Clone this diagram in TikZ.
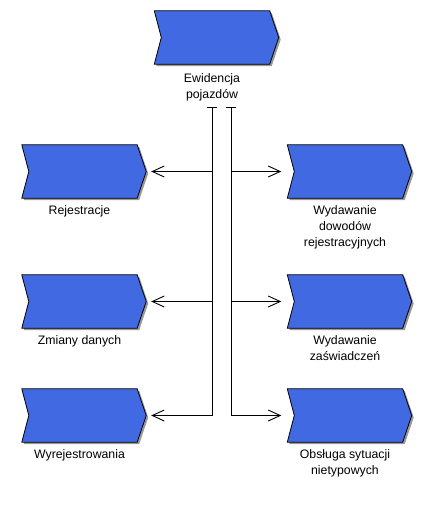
\documentclass[tikz,border=0pt]{standalone}
\usepackage{fontspec}
\setmainfont{Liberation Sans}
\usetikzlibrary{calc, positioning, arrows.meta}

\definecolor{procblue}{RGB}{65,105,225}
\tikzset{
  proc/.style={minimum width=115pt, minimum height=53pt, inner sep=0pt},
  chev/.style={fill=procblue, draw=black, line width=0.8pt},
  lbl/.style={align=center, inner sep=0pt, font=\fontsize{12.3}{16}\selectfont},
  arr/.style={-{Straight Barb[length=12pt,width=11pt]}, line width=0.9pt},
  bus/.style={line width=0.9pt}
}

\begin{document}
\begin{tikzpicture}[x=1pt,y=-1pt]
            \useasboundingbox (0,0) rectangle (441,507);
            % process boxes
            \node[proc] (top) at (212,37.5) {};
            \node[proc] (reg) at (79.5,171.5) {};
            \node[proc] (zmi) at (79.5,301.5) {};
            \node[proc] (wyr) at (79.5,415.5) {};
            \node[proc] (wyd) at (345,171.5) {};
            \node[proc] (zas) at (345,301.5) {};
            \node[proc] (obs) at (345,415.5) {};
            \foreach \n in {top,reg,zmi,wyr,wyd,zas,obs}{
                \fill[black!40] ([shift={(2,2)}]\n.north west)--([shift={(2,2)}]\n.north east)
                    --([shift={(11,2)}]\n.east)--([shift={(2,2)}]\n.south east)
                    --([shift={(2,2)}]\n.south west)--([shift={(9,2)}]\n.west)--cycle;
                \draw[chev] (\n.north west)--(\n.north east)--([xshift=9pt]\n.east)
                    --(\n.south east)--(\n.south west)--([xshift=7pt]\n.west)--cycle;
            }
            % labels
            \node[lbl,below=9pt of top] (top-l) {Ewidencja\\pojazdów};
            \node[lbl,below=7pt of reg] (reg-l) {Rejestracje};
            \node[lbl,below=7pt of zmi] (zmi-l) {Zmiany danych};
            \node[lbl,below=7pt of wyr] (wyr-l) {Wyrejestrowania};
            \node[lbl,below=7pt of wyd] (wyd-l) {Wydawanie\\dowodów\\rejestracyjnych};
            \node[lbl,below=7pt of zas] (zas-l) {Wydawanie\\zaświadczeń};
            \node[lbl,below=7pt of obs] (obs-l) {Obsługa sytuacji\\nietypowych};
            % bus lines
            \coordinate (lt) at (212,107);
            \coordinate (rt) at (231,107);
            \draw[bus] ([xshift=-5pt]lt)--([xshift=5pt]lt);
            \draw[bus] ([xshift=-5pt]rt)--([xshift=5pt]rt);
            \draw[arr] (lt) |- ([xshift=14pt]wyr.east);
            \draw[arr] (lt |- reg) -- ([xshift=14pt]reg.east);
            \draw[arr] (lt |- zmi) -- ([xshift=14pt]zmi.east);
            \draw[arr] (rt) |- ([xshift=-6pt]obs.west);
            \draw[arr] (rt |- wyd) -- ([xshift=-6pt]wyd.west);
            \draw[arr] (rt |- zas) -- ([xshift=-6pt]zas.west);
\end{tikzpicture}
\end{document}
